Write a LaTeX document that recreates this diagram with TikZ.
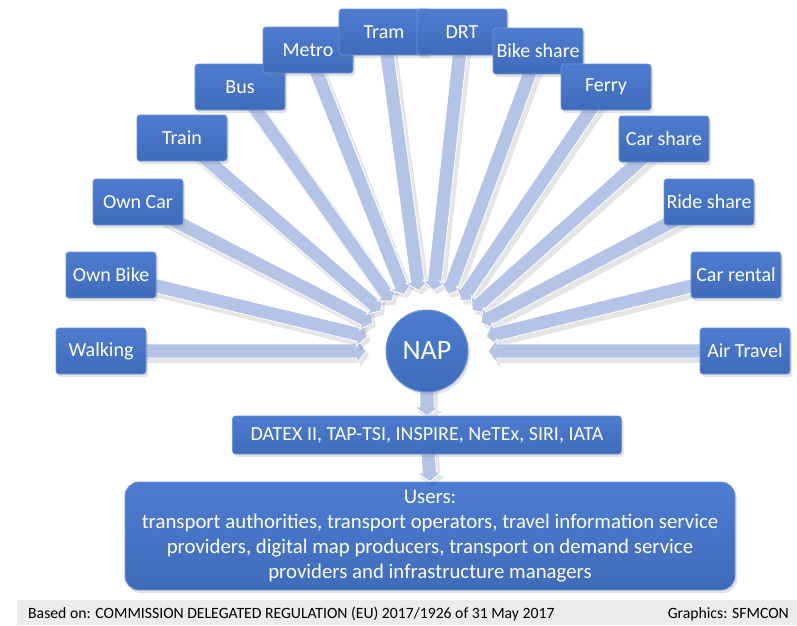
\documentclass[tikz,border=0pt]{standalone}
\usepackage{fontspec}
\setmainfont{Carlito}
\usetikzlibrary{calc,shadows}
\definecolor{boxtop}{HTML}{4D7CD0}
\definecolor{boxbot}{HTML}{3F6BBB}
\definecolor{boxedge}{HTML}{6E94D9}
\definecolor{arrowfill}{HTML}{B4C4E6}
\definecolor{footergray}{HTML}{ECECEC}

\newcommand\fatarrow[2]{%
  \fill[black,opacity=0.10] let \p1=(#1), \p2=(#2),
    \n1={atan2(\y2-\y1,\x2-\x1)}, \n2={veclen(\x2-\x1,\y2-\y1)} in
    [shift={(\p1)}, xshift=3pt, yshift=-4pt, rotate=\n1]
    (0,-8) -- (\n2-9,-8) -- (\n2-9,-13) -- (\n2,0) -- (\n2-9,13) -- (\n2-9,8) -- (0,8) -- cycle;
  \path[draw=white, line width=0.8pt, fill=arrowfill] let \p1=(#1), \p2=(#2),
    \n1={atan2(\y2-\y1,\x2-\x1)}, \n2={veclen(\x2-\x1,\y2-\y1)} in
    [shift={(\p1)}, rotate=\n1]
    (0,-7) -- (\n2-9,-7) -- (\n2-9,-12) -- (\n2,0) -- (\n2-9,12) -- (\n2-9,7) -- (0,7) -- cycle;
}

\tikzset{
  mode/.style={rectangle, rounded corners=3pt, minimum width=90pt, minimum height=46pt,
    inner xsep=2pt, inner ysep=1pt, top color=boxtop, bottom color=boxbot,
    draw=boxedge, line width=0.8pt, text=white, font=\fontsize{20}{24}\selectfont,
    drop shadow={opacity=0.22, shadow xshift=2pt, shadow yshift=-3pt}},
  hub/.style={circle, minimum size=82pt, inner sep=0pt, top color=boxtop, bottom color=boxbot,
    draw=boxedge, line width=1pt, text=white, font=\fontsize{28}{32}\selectfont,
    drop shadow={opacity=0.22, shadow xshift=2pt, shadow yshift=-3pt}},
  std/.style={mode, minimum width=389pt, minimum height=38pt},
  users/.style={mode, rounded corners=14pt, minimum width=610pt, minimum height=108pt,
    align=center, font=\fontsize{20.8}{25}\selectfont},
  foot/.style={font=\fontsize{15.7}{18}\selectfont, text=black, inner sep=0pt}
}

\begin{document}
\begin{tikzpicture}[x=1pt, y=-1pt]
\useasboundingbox (0,0) rectangle (797,625);
\fill[white] (0,0) rectangle (797,625);

\coordinate (napc) at (427,351);

\path (101,351) coordinate (cwalk)
      (111,275) coordinate (cbike)
      (138,202) coordinate (ccar)
      (182,138) coordinate (ctrain)
      (240,87)  coordinate (cbus)
      (308,50)  coordinate (cmetro)
      (384,32)  coordinate (ctram)
      (462,32)  coordinate (cdrt)
      (538,51)  coordinate (cbshare)
      (606,87)  coordinate (cferry)
      (664,139) coordinate (ccshare)
      (709,202) coordinate (crshare)
      (736,275) coordinate (crental)
      (745,351) coordinate (cair);

% fat arrows towards the hub
\foreach \c in {cwalk,cbike,ccar,ctrain,cbus,cmetro,ctram,cdrt,cbshare,cferry,ccshare,crshare,crental,cair}{
  \fatarrow{\c}{$(napc)!61pt!(\c)$}
}

% boxes
\node[mode] (walk)   at (cwalk)   {Walking};
\node[mode] (bike)   at (cbike)   {Own Bike};
\node[mode] (car)    at (ccar)    {Own Car};
\node[mode] (train)  at (ctrain)  {Train};
\node[mode] (bus)    at (cbus)    {Bus};
\node[mode] (metro)  at (cmetro)  {Metro};
\node[mode] (tram)   at (ctram)   {Tram};
\node[mode] (drt)    at (cdrt)    {DRT};
\node[mode] (bshare) at (cbshare) {Bike share};
\node[mode] (ferry)  at (cferry)  {Ferry};
\node[mode] (cshare) at (ccshare) {Car share};
\node[mode] (rshare) at (crshare) {Ride share};
\node[mode] (rental) at (crental) {Car rental};
\node[mode] (air)    at (cair)    {Air Travel};

% lower chain
\coordinate (cdatex) at (427,435);
\node[users] (usr) at (430,536) {Users:\\transport authorities, transport operators, travel information service\\providers, digital map producers, transport on demand service\\providers and infrastructure managers};

\fatarrow{napc}{$(cdatex)+(0,-19)$}
\fatarrow{cdatex}{usr.north}
\node[std] (datex) at (cdatex) {DATEX II, TAP-TSI, INSPIRE, NeTEx, SIRI, IATA};
\node[hub] (nap) at (napc) {NAP};

% footer
\fill[footergray] (17,600) rectangle (797,625);
\node[foot, anchor=base west] (src) at (28,618) {Based on: COMMISSION DELEGATED REGULATION (EU) 2017/1926 of 31 May 2017};
\node[foot, anchor=base east] (gfx) at (789,618) {Graphics: SFMCON};
\end{tikzpicture}
\end{document}
